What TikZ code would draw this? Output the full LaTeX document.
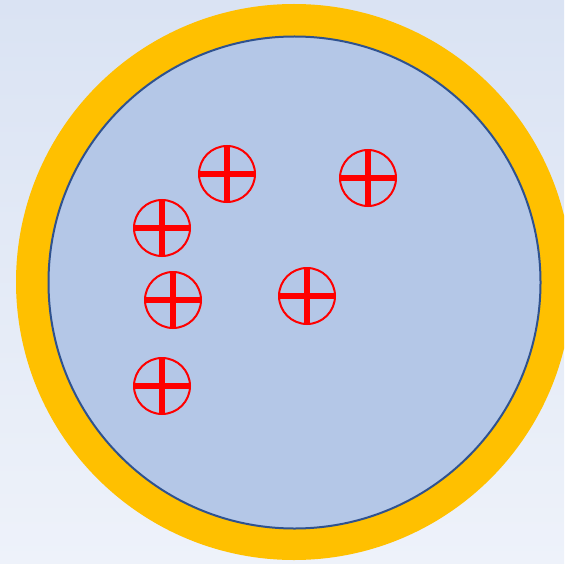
\documentclass[tikz,border=0pt]{standalone}
\usepackage{tikz}
\definecolor{bgtop}{HTML}{DAE3F3}
\definecolor{bgbot}{HTML}{EEF2FA}
\definecolor{ring}{HTML}{FFC000}
\definecolor{disk}{HTML}{B4C7E7}
\definecolor{diskline}{HTML}{2F528F}
\definecolor{plusred}{HTML}{FF0000}
\tikzset{
  pluscircle/.style={draw=plusred, line width=2pt, fill=disk},
  plusbar/.style={draw=plusred, line width=6pt}
}
\newcommand{\plussign}[2]{%
  \node[circle, pluscircle, minimum size=56pt, inner sep=0pt] (#1) at #2 {};
  \draw[plusbar] (#1.north) -- (#1.south);
  \draw[plusbar] (#1.west) -- (#1.east);
}
\begin{document}
\begin{tikzpicture}[x=1pt,y=-1pt]
\useasboundingbox (0,0) rectangle (564,564);
\shade[top color=bgtop, bottom color=bgbot] (0,0) rectangle (564,564);
\clip (0,0) rectangle (564,564);
\node[circle, fill=ring, minimum size=556pt, inner sep=0pt] (outer) at (294,282) {};
\node[circle, fill=disk, draw=diskline, line width=2pt, minimum size=492pt, inner sep=0pt] (inner) at (294.5,282.5) {};
\plussign{p1}{(227,174)}
\plussign{p2}{(368,178)}
\plussign{p3}{(162,228)}
\plussign{p4}{(173,300)}
\plussign{p5}{(307,296)}
\plussign{p6}{(162,386)}
\end{tikzpicture}
\end{document}
